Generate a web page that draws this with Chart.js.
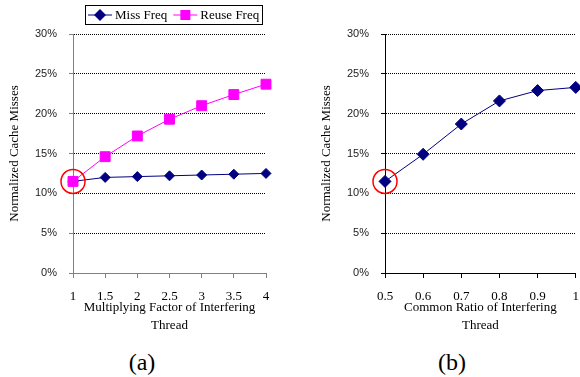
<!DOCTYPE html>
<html>
<head>
<meta charset="utf-8">
<script src="https://cdn.jsdelivr.net/npm/chart.js@4.4.1/dist/chart.umd.min.js"></script>
<style>
  html, body { margin: 0; padding: 0; background: #fff; overflow: hidden; }
  body { width: 580px; height: 377px; position: relative; }
  canvas { position: absolute; top: 0; }
  #chartA { left: 0; }
  #chartB { left: 290px; }
  .caption { position: absolute; top: 347px; width: 60px; text-align: center;
             font: 24px "Liberation Serif", serif; line-height: 30px; color: #000; }
</style>
</head>
<body>
<canvas id="chartA" width="290" height="340"></canvas>
<canvas id="chartB" width="300" height="340"></canvas>
<div class="caption" style="left:112px">(a)</div>
<div class="caption" style="left:422px">(b)</div>
<script>
// --- Datos ---
const factorLabels = ['1', '1.5', '2', '2.5', '3', '3.5', '4'];
const missFreq = [11.5, 12.0, 12.1, 12.2, 12.3, 12.4, 12.5];
const reuseFreq = [11.5, 14.6, 17.2, 19.3, 21.0, 22.4, 23.7];

const ratioLabels = ['0.5', '0.6', '0.7', '0.8', '0.9', '1'];
const ratioMisses = [11.5, 14.9, 18.7, 21.6, 22.9, 23.3];

const yTicks = [0, 5, 10, 15, 20, 25, 30];

const SERIF = 'Liberation Serif';

// Leyenda estilo Excel: línea + marcador, con marco
function drawMarker(ctx, style, x, y, r, color) {
  ctx.fillStyle = color;
  ctx.beginPath();
  if (style === 'rectRot') {
    ctx.moveTo(x, y - r);
    ctx.lineTo(x + r, y);
    ctx.lineTo(x, y + r);
    ctx.lineTo(x - r, y);
    ctx.closePath();
  } else {
    ctx.rect(x - r, y - r, 2 * r, 2 * r);
  }
  ctx.fill();
}

const legendBox = {
  id: 'legendBox',
  afterDraw(chart, args, opts) {
    if (!opts.display) return;
    const ctx = chart.ctx;
    const items = chart.data.datasets.filter(ds => ds.label && !ds.hideInLegend);
    ctx.save();
    ctx.font = opts.fontSize + 'px "' + SERIF + '"';
    const widths = items.map(ds => opts.lineLength + opts.gap + ctx.measureText(ds.label).width);
    const total = widths.reduce((a, b) => a + b, 0) + opts.spacing * (items.length - 1) + opts.pad * 2;
    const left = Math.round(opts.centerX - total / 2);
    const cy = opts.top + opts.height / 2;

    ctx.strokeStyle = '#000';
    ctx.lineWidth = 1;
    ctx.strokeRect(left + 0.5, opts.top + 0.5, Math.round(total), opts.height);

    let x = left + opts.pad;
    items.forEach((ds, i) => {
      ctx.strokeStyle = ds.borderColor;
      ctx.beginPath();
      ctx.moveTo(x, cy + 0.5);
      ctx.lineTo(x + opts.lineLength, cy + 0.5);
      ctx.stroke();
      drawMarker(ctx, ds.pointStyle, x + opts.lineLength / 2, cy + 0.5, opts.markers[ds.pointStyle], ds.backgroundColor);
      ctx.fillStyle = '#000';
      ctx.textAlign = 'left';
      ctx.textBaseline = 'middle';
      ctx.fillText(ds.label, x + opts.lineLength + opts.gap, cy + 1);
      x += widths[i] + opts.spacing;
    });
    ctx.restore();
  }
};

function buildOptions(axisColor, xTitle, padding, showLegend) {
  return {
    responsive: false,
    animation: false,
    events: [],
    layout: { padding: padding },
    plugins: {
      legend: { display: false },
      tooltip: { enabled: false },
      legendBox: {
        display: showLegend,
        centerX: 174, top: 5, height: 19,
        fontSize: 13, lineLength: 24, gap: 3, spacing: 6, pad: 3,
        markers: { rectRot: 6, rect: 5 }
      }
    },
    scales: {
      x: {
        grid: { drawOnChartArea: false, drawTicks: true, tickLength: 5, tickColor: axisColor },
        border: { color: axisColor, width: 1 },
        ticks: {
          color: '#000', autoSkip: false, maxRotation: 0, padding: 11,
          font: { family: SERIF, size: 13 }
        },
        title: {
          display: true, text: xTitle, color: '#000',
          font: { family: SERIF, size: 13, lineHeight: 1.4 },
          padding: { top: 0, bottom: 5 }
        },
        afterFit: s => { s.height = 67; }
      },
      y: {
        min: yTicks[0],
        max: yTicks[yTicks.length - 1],
        grid: {
          color: c => (c.tick && c.tick.value === 0) ? 'rgba(0,0,0,0)' : '#000',
          tickColor: axisColor, tickLength: 4
        },
        border: { color: axisColor, width: 1, dash: [1, 1] },
        ticks: {
          stepSize: yTicks[1] - yTicks[0],
          callback: v => v + '%',
          color: '#222', padding: 12,
          font: { family: 'Liberation Sans', size: 11 }
        },
        title: {
          display: true, text: 'Normalized Cache Misses', color: '#000',
          font: { family: SERIF, size: 13 },
          padding: { top: 7, bottom: 0 }
        },
        afterFit: s => { s.width = 73; }
      }
    }
  };
}

function highlightFirst(values) {
  return values.map((v, i) => (i === 0 ? v : null));
}

function seriesStyle(color, style, radius, order) {
  return {
    borderColor: color, backgroundColor: color,
    borderWidth: 1, pointStyle: style, pointRadius: radius,
    pointBorderWidth: 1, tension: 0, order: order
  };
}

function circleDataset(values) {
  return {
    data: highlightFirst(values),
    hideInLegend: true,
    showLine: false,
    pointStyle: 'circle',
    pointRadius: 12,
    pointBorderWidth: 1.5,
    pointBorderColor: '#FF0000',
    pointBackgroundColor: 'rgba(0,0,0,0)',
    order: -1
  };
}

// --- Gráfico (a) ---
new Chart(document.getElementById('chartA'), {
  type: 'line',
  data: {
    labels: factorLabels,
    datasets: [
      { label: 'Miss Freq', data: missFreq, ...seriesStyle('#000080', 'rectRot', 5, 1) },
      { label: 'Reuse Freq', data: reuseFreq, ...seriesStyle('#FF00FF', 'rect', 7, 0) },
      circleDataset(reuseFreq)
    ]
  },
  options: buildOptions('#808080', ['Multiplying Factor of Interfering', 'Thread'],
    { top: 34, left: 0, right: 24, bottom: 0 }, true),
  plugins: [legendBox]
});

// --- Gráfico (b) ---
new Chart(document.getElementById('chartB'), {
  type: 'line',
  data: {
    labels: ratioLabels,
    datasets: [
      { label: 'Normalized Cache Misses', hideInLegend: true, data: ratioMisses, ...seriesStyle('#000080', 'rectRot', 6, 0) },
      circleDataset(ratioMisses)
    ]
  },
  options: buildOptions('#000000', ['Common Ratio of Interfering', 'Thread'],
    { top: 34, left: 22, right: 11, bottom: 0 }, false),
  plugins: [legendBox]
});
</script>
</body>
</html>
